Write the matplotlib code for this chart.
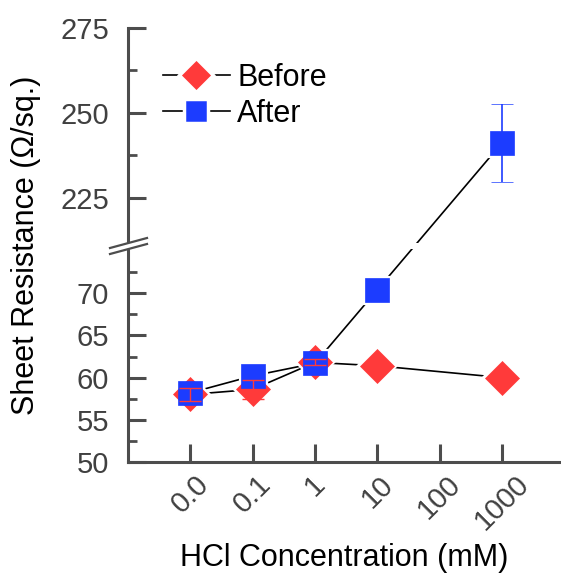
import numpy as np
import matplotlib
matplotlib.use("Agg")
import matplotlib.pyplot as plt
from matplotlib.lines import Line2D
from matplotlib.patches import Polygon

plt.rcParams['font.family'] = ['Liberation Sans', 'DejaVu Sans']

# data
conc_labels = ["0.0", "0.1", "1", "10", "100", "1000"]
before_pos = [0, 1, 2, 3, 5]
before_val = [58.0, 58.6, 61.8, 61.4, 60.0]
before_err = [0.8, 1.1, 0.35, 0.0, 0.0]
after_pos = [0, 1, 2, 3, 5]
after_val = [58.2, 60.2, 61.7, 70.4, 241.2]
after_err = [0.0, 0.0, 0.0, 0.0, 11.5]

red = "#ff3a3a"
blue = "#1c3cff"
grey = "#4d4d4d"

# broken y scale: 50-75 below, 212-275 above (pixel-like units)
ys = np.array([50.0, 75.0, 212.0, 275.0])
ps = np.array([0.0, 211.0, 220.0, 434.0])

def fwd(y):
    y = np.asarray(y, float)
    out = np.interp(y, ys, ps)
    out = np.where(y < ys[0], (y - ys[0]) * 8.44, out)
    out = np.where(y > ys[-1], ps[-1] + (y - ys[-1]) * 3.397, out)
    return out

def inv(p):
    p = np.asarray(p, float)
    out = np.interp(p, ps, ys)
    out = np.where(p < ps[0], ys[0] + p / 8.44, out)
    out = np.where(p > ps[-1], ys[-1] + (p - ps[-1]) / 3.397, out)
    return out

fig = plt.figure(figsize=(5.61, 5.77), dpi=100)
ax = fig.add_axes([128/561, 115/577, 432/561, 434/577])
ax.set_yscale('function', functions=(fwd, inv))

# connecting lines
ax.plot(before_pos, before_val, color='black', lw=1.2, zorder=1)
ax.plot(after_pos, after_val, color='black', lw=1.2, zorder=1)

# white halos so lines stop short of the markers
ax.plot(before_pos, before_val, ls='none', marker='D', ms=18, mfc='white', mec='white', mew=3, zorder=2)
ax.plot(after_pos, after_val, ls='none', marker='s', ms=18, mfc='white', mec='white', mew=3, zorder=2)

ax.plot(before_pos, before_val, ls='none', marker='D', ms=17.5, mfc=red, mec=red, mew=0.5, zorder=4)
ax.errorbar(after_pos, after_val, yerr=after_err, fmt='s', ms=17.5, mfc=blue, mec=blue, mew=0.5,
            ecolor=blue, elinewidth=1.2, capsize=8, capthick=1.2, zorder=5)
ax.errorbar(before_pos, before_val, yerr=before_err, fmt='none', ecolor=red,
            elinewidth=1.0, capsize=8, capthick=1.0, zorder=6)

# gap at the axis break
ax.axhspan(inv(213), inv(219), color='white', zorder=3, lw=0)

ax.set_ylim(50, 275)
ax.set_xlim(-1.0, 5.93)
ax.set_yticks([50, 55, 60, 65, 70, 225, 250, 275])
ax.set_yticks([52.5, 57.5, 62.5, 67.5, 72.5, 237.5, 262.5], minor=True)
ax.set_xticks(range(len(conc_labels)))
ax.set_xticklabels(conc_labels, rotation=45, ha='center', va='top', rotation_mode='default')

for s in ['top', 'right']:
    ax.spines[s].set_visible(False)
for s in ['left', 'bottom']:
    ax.spines[s].set_color(grey)
    ax.spines[s].set_linewidth(2.2)

ax.tick_params(axis='both', which='major', direction='in', length=13, width=2.2,
               color=grey, labelcolor='#404040', labelsize=21)
ax.tick_params(axis='y', which='minor', direction='in', length=6.5, width=2.0, color=grey)
ax.tick_params(axis='y', which='major', pad=13.5)
ax.tick_params(axis='x', which='major', pad=6)

ax.set_xlabel("HCl Concentration (mM)", fontsize=22, labelpad=5)
ax.set_ylabel("Sheet Resistance (\u03a9/sq.)", fontsize=22, labelpad=14)

# break marks on the y spine
x0 = ax.transAxes.transform((0, 0))[0]
y_lo = ax.transData.transform((0, inv(213)))[1]
y_hi = ax.transData.transform((0, inv(219)))[1]
to_fig = fig.transFigure.inverted()
pts = [(x0 - 18, y_lo - 5), (x0 + 19, y_lo + 5), (x0 + 19, y_hi + 5), (x0 - 18, y_hi - 5)]
pts = to_fig.transform(pts)
fig.add_artist(Polygon(pts, closed=True, facecolor='white', edgecolor='none', zorder=10))
for a, b in [(pts[0], pts[1]), (pts[3], pts[2])]:
    fig.add_artist(Line2D([a[0], b[0]], [a[1], b[1]], color=grey, lw=1.6, zorder=11))

# legend
handles = [
    Line2D([], [], color='black', lw=1.2, marker='D', ms=17, mfc=red, mec='white', mew=2.5),
    Line2D([], [], color='black', lw=1.2, marker='s', ms=17, mfc=blue, mec='white', mew=2.5),
]
ax.legend(handles, ["Before", "After"], loc='upper left', bbox_to_anchor=(0.08, 0.92),
          frameon=False, fontsize=22, handlelength=2.2, handletextpad=0.25,
          labelspacing=0.2, borderpad=0, borderaxespad=0)

fig.savefig("out.png", dpi=100)
